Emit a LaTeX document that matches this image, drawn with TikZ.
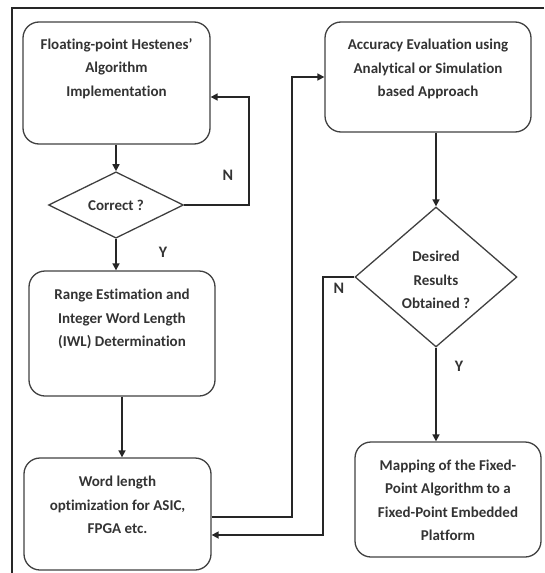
\documentclass[tikz,border=0pt]{standalone}
\usepackage{fontspec}
\setmainfont{Carlito}[RawFeature={-liga}]
\usetikzlibrary{shapes.geometric,arrows.meta}
\begin{document}
\begin{tikzpicture}[x=1pt,y=-1pt,
  boxstyle/.style={draw=black!75,line width=1.3pt,rounded corners=16pt,inner sep=0pt},
  txt/.style={align=center,font=\bfseries\fontsize{15}{23.5}\selectfont,text=black!80,inner sep=0pt},
  dia/.style={draw=black!75,line width=1.3pt,diamond,inner sep=0pt,align=center,font=\bfseries\fontsize{15}{23.5}\selectfont,text=black!80},
  conn/.style={draw=black!85,line width=1.6pt},
  arr/.style={conn,-{Triangle[length=7pt,width=7pt]}},
  lbl/.style={font=\bfseries\fontsize{16}{18}\selectfont,text=black!80,inner sep=0pt}]
\useasboundingbox (0,0) rectangle (544,573);
% frame
\draw[black!85,line width=1.2pt] (544,8) -- (12,8) -- (12,573);
% boxes
\node[boxstyle,minimum width=187pt,minimum height=122pt] (b1) at (116.5,83) {};
\node[txt] (b1t) at (116.5,68.5) {Floating-point Hestenes'\\Algorithm\\Implementation};
\node[dia,minimum width=135pt,minimum height=66pt] (d1) at (116,205) {Correct ?};
\node[boxstyle,minimum width=186pt,minimum height=125pt] (b2) at (122,333.5) {};
\node[txt] (b2t) at (122,319) {Range Estimation and\\Integer Word Length\\(IWL) Determination};
\node[boxstyle,minimum width=187pt,minimum height=112pt] (b3) at (117.5,514) {};
\node[txt] (b3t) at (117.5,505) {Word length\\optimization for ASIC,\\FPGA etc.};
\node[boxstyle,minimum width=206pt,minimum height=110pt] (b4) at (428,77) {};
\node[txt] (b4t) at (428,69) {Accuracy Evaluation using\\Analytical or Simulation\\based Approach};
\node[dia,minimum width=162pt,minimum height=140pt] (d2) at (436,277) {};
\node[txt] (d2t) at (436,280) {Desired\\Results\\Obtained ?};
\node[boxstyle,minimum width=186pt,minimum height=115pt] (b5) at (448,499.5) {};
\node[txt] (b5t) at (448,500.5) {Mapping of the Fixed-\\Point Algorithm to a\\Fixed-Point Embedded\\Platform};
% coordinates
\coordinate (n1a) at (249,205);
\coordinate (n1b) at (249,97);
\coordinate (p1) at (292,517);
\coordinate (p2) at (292,77);
\coordinate (q1) at (323,277);
\coordinate (q2) at (323,535);
% connectors
\draw[arr] (b1.south -| d1.north) -- (d1.north);
\draw[arr] (d1.east) -- (n1a) -- (n1b) -- (b1.east |- n1b);
\draw[arr] (d1.south) -- (d1.south |- b2.north);
\draw[arr] (b2.south) -- (b2.south |- b3.north);
\draw[arr] (b3.east |- p1) -- (p1) -- (p2) -- (b4.west |- p2);
\draw[arr] (d2.west) -- (q1) -- (q2) -- (b3.east |- q2);
\draw[arr] (d2.north |- b4.south) -- (d2.north);
\draw[arr] (d2.south) -- (d2.south |- b5.north);
% labels
\node[lbl] (ln1) at (228,175) {N};
\node[lbl] (ly1) at (163,252) {Y};
\node[lbl] (ln2) at (339,288) {N};
\node[lbl] (ly2) at (459,366) {Y};
\end{tikzpicture}
\end{document}
